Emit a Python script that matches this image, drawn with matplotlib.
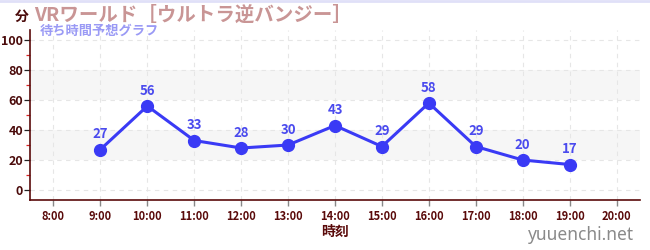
import matplotlib
matplotlib.use("Agg")
import matplotlib.pyplot as plt
from matplotlib.lines import Line2D
from matplotlib.ticker import MultipleLocator

plt.rcParams['font.family'] = ['Noto Sans CJK JP', 'DejaVu Sans']

hours = [9, 10, 11, 12, 13, 14, 15, 16, 17, 18, 19]
waits = [27, 56, 33, 28, 30, 43, 29, 58, 29, 20, 17]
tick_hours = list(range(8, 21))
tick_labels = [f"{h}:00" for h in tick_hours]
title = "VRワールド［ウルトラ逆バンジー］"
subtitle = "待ち時間予想グラフ"
xlabel = "時刻"
ylabel = "分"
watermark = "yuuenchi.net"

fig = plt.figure(figsize=(6.5, 2.5), dpi=100)
ax = fig.add_axes([30/650, 1-200/250, 610/650, 170/250])
ax.set_xlim(7.5, 20.5)
ax.set_ylim(-6.67, 106.7)

for lo, hi in [(20, 40), (60, 80)]:
    ax.axhspan(lo, hi, color='#f6f6f6', zorder=0, lw=0)
for h in tick_hours:
    ax.axvline(h, color='#e6e6e6', lw=0.8, ls=(0, (4, 4)), zorder=0.5)
for y in range(0, 101, 20):
    ax.axhline(y, color='#e6e6e6', lw=0.8, ls=(0, (4, 4)), zorder=0.5)

line_c = '#3a3af5'
ax.plot(hours, waits, color=line_c, lw=2.2, marker='o', ms=8.5, zorder=3)
for h, w in zip(hours, waits):
    ax.annotate(str(w), (h, w), xytext=(0, 6), textcoords='offset points',
                ha='center', va='bottom', color='#4a4aee', fontsize=9.5,
                fontweight='bold', zorder=4)

ax.set_xticks(tick_hours)
ax.set_xticklabels(tick_labels)
ax.set_yticks(range(0, 101, 20))
ax.yaxis.set_minor_locator(MultipleLocator(10))
ax.tick_params(axis='y', which='minor', length=3, color='#dd2222', width=0.9)
ax.tick_params(axis='y', which='major', length=4, color='#222222', width=0.9,
               labelsize=9, labelcolor='#4a0a0a', pad=1)
ax.tick_params(axis='x', which='major', length=4, color='#888888', width=1,
               labelsize=8, labelcolor='#5a0a0a', pad=3)
for lab in ax.get_xticklabels() + ax.get_yticklabels():
    lab.set_fontweight('bold')

for s in ['top', 'right']:
    ax.spines[s].set_visible(False)
for s in ['left', 'bottom']:
    ax.spines[s].set_color('#5a0a0a')
    ax.spines[s].set_linewidth(1.2)

fig.text(335/650, 1-232/250, xlabel, ha='center', va='center', fontsize=10,
         fontweight='bold', color='#5a0a0a')
fig.text(22/650, 1-17/250, ylabel, ha='center', va='center', fontsize=10,
         fontweight='bold', color='#4a0a0a')
fig.text(34/650, 1-15/250, title, ha='left', va='center', fontsize=14,
         fontweight='bold', color='#c99595')
fig.text(40/650, 1-31/250, subtitle, ha='left', va='center', fontsize=9.5,
         fontweight='bold', color='#9a9af5')
fig.text(634/650, 1-235/250, watermark, ha='right', va='center', fontsize=12.5,
         color='#8a8a8a', family=['Noto Sans', 'DejaVu Sans'])
fig.add_artist(Line2D([0, 1], [1-1/250, 1-1/250], transform=fig.transFigure,
                      color='#e0e0f8', lw=2))

fig.savefig('out.png', dpi=100)
